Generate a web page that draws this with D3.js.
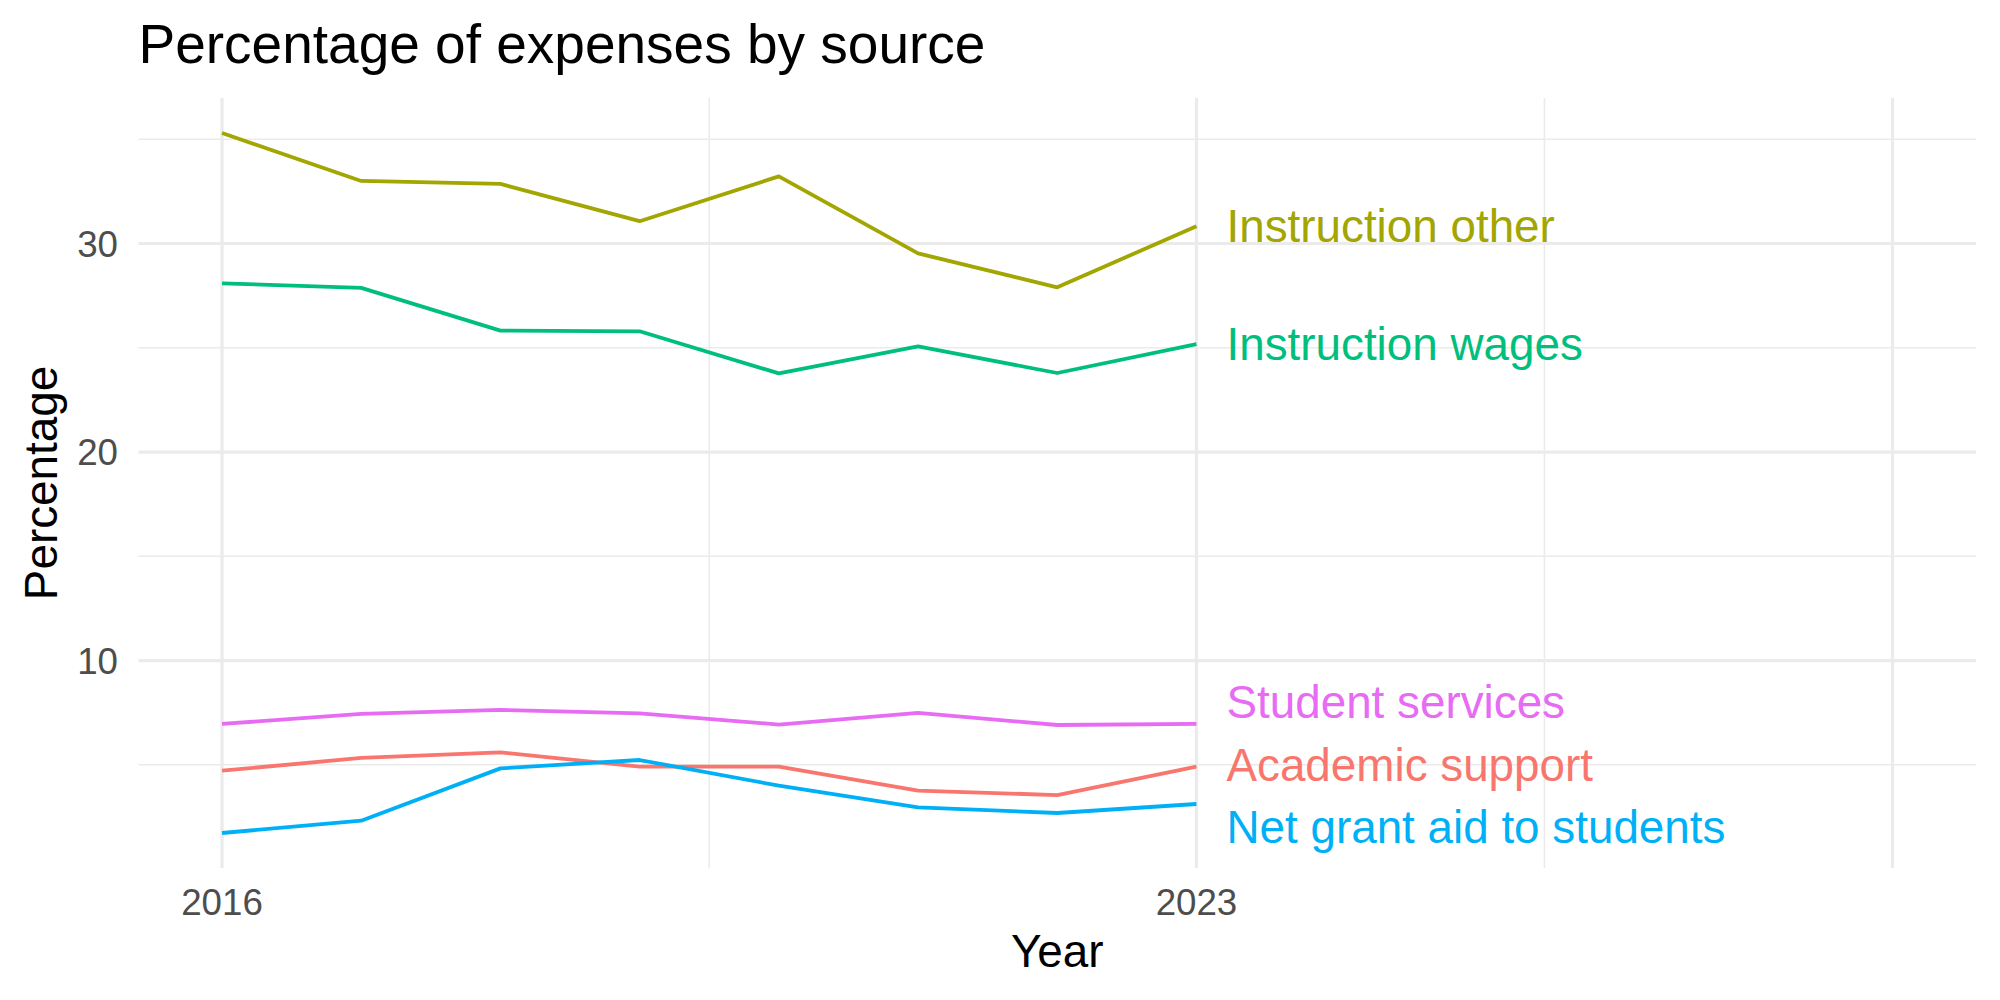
<!DOCTYPE html>
<html>
<head>
<meta charset="utf-8">
<script src="https://cdn.jsdelivr.net/npm/d3@7"></script>
<style>
  body { margin: 0; background: white; }
  text { font-family: "Liberation Sans", Arial, sans-serif; }
</style>
</head>
<body>
<script>
const width = 2000;
const height = 1000;

// Data
const years = [2016, 2017, 2018, 2019, 2020, 2021, 2022, 2023];
const seriesNames = ["Academic support", "Instruction other", "Instruction wages", "Net grant aid to students", "Student services"];
const seriesColors = ["#F8766D", "#A3A500", "#00BF7D", "#00B0F6", "#E76BF3"];
const academicSupport = [4.72, 5.33, 5.60, 4.91, 4.91, 3.76, 3.55, 4.91];
const instructionOther = [35.3, 33.0, 32.86, 31.07, 33.22, 29.53, 27.9, 30.83];
const instructionWages = [28.09, 27.87, 25.82, 25.79, 23.77, 25.07, 23.79, 25.17];
const netGrantAid = [1.73, 2.32, 4.83, 5.23, 4.0, 2.96, 2.69, 3.12];
const studentServices = [6.96, 7.44, 7.63, 7.47, 6.93, 7.49, 6.91, 6.96];
const xLimits = [2016, 2028];
const xMajor = [2016, 2023, 2028];
const xLabels = ["2016", "2023", ""];
const xMinor = [2019.5, 2025.5];
const yMajor = [10, 20, 30];
const yMinor = [5, 15, 25, 35];

const seriesValues = [academicSupport, instructionOther, instructionWages, netGrantAid, studentServices];
const series = seriesNames.map((name, i) => ({
  name,
  color: seriesColors[i],
  values: years.map((yr, j) => ({ year: yr, value: seriesValues[i][j] }))
}));

// Panel box
const panel = { left: 138.5, right: 1976, top: 98, bottom: 868 };

const xPad = (xLimits[1] - xLimits[0]) * 0.05;
const x = d3.scaleLinear()
  .domain([xLimits[0] - xPad, xLimits[1] + xPad])
  .range([panel.left, panel.right]);

const allVals = seriesValues.flat();
const yMin = d3.min(allVals), yMax = d3.max(allVals);
const yPad = (yMax - yMin) * 0.05;
const y = d3.scaleLinear()
  .domain([yMin - yPad, yMax + yPad])
  .range([panel.bottom, panel.top]);

const svg = d3.select("body")
  .append("svg")
  .attr("width", width)
  .attr("height", height)
  .attr("viewBox", [0, 0, width, height]);

// Gridlines
const grid = svg.append("g");
grid.selectAll(".y-minor").data(yMinor).enter().append("line")
  .attr("x1", panel.left).attr("x2", panel.right)
  .attr("y1", d => y(d)).attr("y2", d => y(d))
  .attr("stroke", "#EBEBEB").attr("stroke-width", 1.6);
grid.selectAll(".x-minor").data(xMinor).enter().append("line")
  .attr("y1", panel.top).attr("y2", panel.bottom)
  .attr("x1", d => x(d)).attr("x2", d => x(d))
  .attr("stroke", "#EBEBEB").attr("stroke-width", 1.6);
grid.selectAll(".y-major").data(yMajor).enter().append("line")
  .attr("x1", panel.left).attr("x2", panel.right)
  .attr("y1", d => y(d)).attr("y2", d => y(d))
  .attr("stroke", "#EBEBEB").attr("stroke-width", 3.2);
grid.selectAll(".x-major").data(xMajor).enter().append("line")
  .attr("y1", panel.top).attr("y2", panel.bottom)
  .attr("x1", d => x(d)).attr("x2", d => x(d))
  .attr("stroke", "#EBEBEB").attr("stroke-width", 3.2);

// Lines
const line = d3.line()
  .x(d => x(d.year))
  .y(d => y(d.value));

svg.append("g").selectAll("path")
  .data(series)
  .enter()
  .append("path")
  .attr("d", d => line(d.values))
  .attr("fill", "none")
  .attr("stroke", d => d.color)
  .attr("stroke-width", 3.8)
  .attr("stroke-linejoin", "round");

// End labels, pushed apart a bit like ggrepel
const labelSize = 45.8;
const minGap = 62.5;
const labels = series.map(s => ({
  name: s.name,
  color: s.color,
  target: y(s.values[s.values.length - 1].value)
}));
labels.forEach(l => l.pos = l.target);
labels.sort((a, b) => a.pos - b.pos);
for (let k = 0; k < 200; k++) {
  for (let i = 0; i < labels.length - 1; i++) {
    const gap = labels[i + 1].pos - labels[i].pos;
    if (gap < minGap) {
      const push = (minGap - gap) / 2;
      labels[i].pos -= push;
      labels[i + 1].pos += push;
    }
  }
}

svg.append("g").selectAll("text")
  .data(labels)
  .enter()
  .append("text")
  .attr("x", x(years[years.length - 1]) + 30)
  .attr("y", d => d.pos + 16)
  .attr("fill", d => d.color)
  .attr("font-size", labelSize)
  .text(d => d.name);

// Axis tick labels
svg.append("g").selectAll("text")
  .data(yMajor)
  .enter()
  .append("text")
  .attr("x", 118)
  .attr("y", d => y(d) + 13)
  .attr("text-anchor", "end")
  .attr("font-size", 36.7)
  .attr("fill", "#4D4D4D")
  .text(d => d);

svg.append("g").selectAll("text")
  .data(xMajor)
  .enter()
  .append("text")
  .attr("x", d => x(d))
  .attr("y", 915)
  .attr("text-anchor", "middle")
  .attr("font-size", 36.7)
  .attr("fill", "#4D4D4D")
  .text((d, i) => xLabels[i]);

// Axis titles
svg.append("text")
  .attr("x", (panel.left + panel.right) / 2)
  .attr("y", 967)
  .attr("text-anchor", "middle")
  .attr("font-size", 45.8)
  .attr("fill", "black")
  .text("Year");

svg.append("text")
  .attr("transform", `translate(56.5, ${(panel.top + panel.bottom) / 2}) rotate(-90)`)
  .attr("text-anchor", "middle")
  .attr("font-size", 45.8)
  .attr("fill", "black")
  .text("Percentage");

// Title
svg.append("text")
  .attr("x", panel.left)
  .attr("y", 62.5)
  .attr("font-size", 55)
  .attr("fill", "black")
  .text("Percentage of expenses by source");
</script>
</body>
</html>
